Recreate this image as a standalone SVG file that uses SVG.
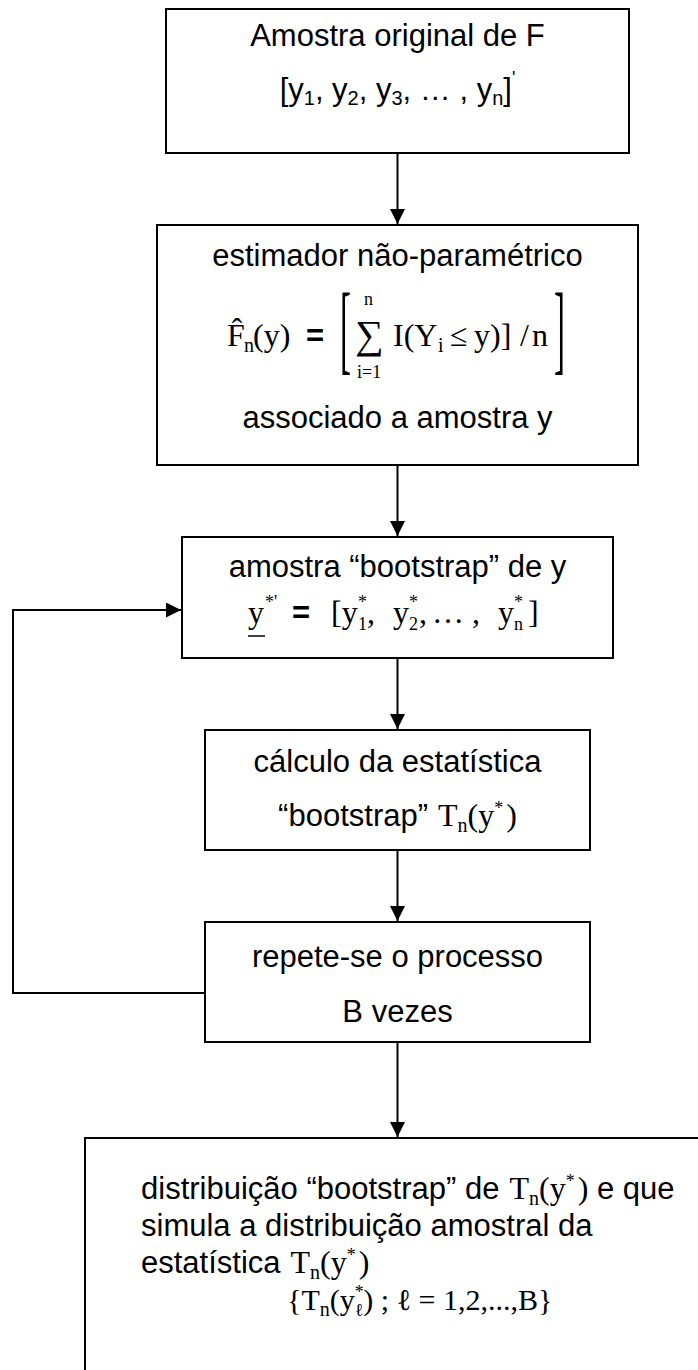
<svg xmlns="http://www.w3.org/2000/svg" width="698" height="1370" viewBox="0 0 698 1370">
<defs>
<style>
.box{fill:#fff;stroke:#000;stroke-width:2}
.c{fill:none;stroke:#000;stroke-width:2}
.t{font-family:"Liberation Sans",Arial,sans-serif;font-size:31px;fill:#000}
.m{font-family:"Liberation Serif","Times New Roman",serif;font-size:32px;fill:#000}
.eq{font-family:"Liberation Sans",Arial,sans-serif;font-size:31px;font-weight:bold}
.s20{font-size:20px}
.s18{font-size:18px}
</style>
<marker id="ah" viewBox="0 0 15 15" refX="15" refY="7.5" markerWidth="15" markerHeight="15" markerUnits="userSpaceOnUse" orient="auto"><path d="M0,0 L15,7.5 L0,15 z" fill="#000"/></marker>
</defs>
<rect width="698" height="1370" fill="#fff"/>

<g id="connectors" class="c">
<line x1="397.5" y1="154" x2="397.5" y2="224" marker-end="url(#ah)"/>
<line x1="397.5" y1="466" x2="397.5" y2="536" marker-end="url(#ah)"/>
<line x1="397.5" y1="659" x2="397.5" y2="729" marker-end="url(#ah)"/>
<line x1="397.5" y1="851" x2="397.5" y2="921" marker-end="url(#ah)"/>
<line x1="397.5" y1="1043" x2="397.5" y2="1137" marker-end="url(#ah)"/>
<polyline points="205,993 13,993 13,610 181,610" marker-end="url(#ah)"/>
</g>

<g id="n1">
<rect class="box" x="166" y="9" width="463" height="144"/>
<text class="t" x="397.5" y="46" text-anchor="middle">Amostra original de F</text>
<text class="t" x="397.5" y="100" text-anchor="middle">[y<tspan class="s20" dy="5">1</tspan><tspan dy="-5">, y</tspan><tspan class="s20" dy="5">2</tspan><tspan dy="-5">, y</tspan><tspan class="s20" dy="5">3</tspan><tspan dy="-5">, … , y</tspan><tspan class="s20" dy="5">n</tspan><tspan dy="-5">]</tspan><tspan class="s18" dy="-16">'</tspan></text>
</g>

<g id="n2">
<rect class="box" x="157" y="225" width="481" height="240"/>
<text class="t" x="397.5" y="266" text-anchor="middle">estimador não-paramétrico</text>
<text class="m" x="227" y="346">F̂</text>
<text class="m s20" x="244" y="352">n</text>
<text class="m" x="253" y="346">(y)</text>
<text class="eq" x="306" y="346">=</text>
<text class="m" transform="translate(340,362) scale(0.33,1)" style="font-size:100px">[</text>
<text class="m" x="355" y="348" style="font-size:40px">∑</text>
<text class="m s18" x="364" y="305">n</text>
<text class="m s18" x="357" y="378">i=1</text>
<text class="m" x="393" y="346">I(Y</text>
<text class="m s20" x="438" y="352">i</text>
<text class="m" x="450" y="346">≤</text>
<text class="m" x="474" y="346">y)]</text>
<text class="m" x="520" y="346">/</text>
<text class="m" x="532" y="346">n</text>
<text class="m" transform="translate(554,362) scale(0.33,1)" style="font-size:100px">]</text>
<text class="t" x="397.5" y="428" text-anchor="middle">associado a amostra y</text>
</g>

<g id="n3">
<rect class="box" x="182" y="537" width="431" height="121"/>
<text class="t" x="397.5" y="577" text-anchor="middle">amostra “bootstrap” de y</text>
<text class="m" y="623"><tspan x="248">y</tspan><tspan x="265" class="s18" dy="-15">*'</tspan><tspan x="292" class="eq" dy="15">=</tspan><tspan x="331">[y</tspan><tspan x="358" class="s18" dy="-15">*</tspan><tspan x="358" class="s18" dy="22">1</tspan><tspan x="367" dy="-7">,</tspan><tspan x="393">y</tspan><tspan x="409" class="s18" dy="-15">*</tspan><tspan x="409" class="s18" dy="22">2</tspan><tspan x="419" dy="-7">,</tspan><tspan x="432">…</tspan><tspan x="472">,</tspan><tspan x="498">y</tspan><tspan x="514" class="s18" dy="-15">*</tspan><tspan x="514" class="s18" dy="22">n</tspan><tspan x="528" dy="-7">]</tspan></text>
<line x1="248" y1="636" x2="265" y2="636" stroke="#000" stroke-width="1.5"/>
</g>

<g id="n4">
<rect class="box" x="205" y="730" width="385" height="120"/>
<text class="t" x="397.5" y="772" text-anchor="middle">cálculo da estatística</text>
<text class="t" x="397.5" y="826" text-anchor="middle">“bootstrap”<tspan class="m" dx="10">T</tspan><tspan class="m s20" dy="6">n</tspan><tspan class="m" dy="-6">(y</tspan><tspan class="m s18" dy="-12">*</tspan><tspan class="m" dy="12" dx="3">)</tspan></text>
</g>

<g id="n5">
<rect class="box" x="205" y="922" width="385" height="120"/>
<text class="t" x="397.5" y="967" text-anchor="middle">repete-se o processo</text>
<text class="t" x="397.5" y="1022" text-anchor="middle">B vezes</text>
</g>

<g id="n6">
<rect class="box" x="85" y="1138" width="620" height="240"/>
<text class="t" x="141" y="1199">distribuição “bootstrap” de<tspan class="m" dx="10">T</tspan><tspan class="m s20" dy="6">n</tspan><tspan class="m" dy="-6">(y</tspan><tspan class="m s18" dy="-12">*</tspan><tspan class="m" dy="12" dx="3">)</tspan> e que</text>
<text class="t" x="141" y="1236">simula a distribuição amostral da</text>
<text class="t" x="141" y="1273">estatística<tspan class="m" dx="10">T</tspan><tspan class="m s20" dy="6">n</tspan><tspan class="m" dy="-6">(y</tspan><tspan class="m s18" dy="-12">*</tspan><tspan class="m" dy="12" dx="3">)</tspan></text>
<text class="m" x="287" y="1310" style="font-size:30px">{T<tspan class="s20" dy="6">n</tspan><tspan dy="-6">(y</tspan><tspan class="s18" dy="-12">*</tspan><tspan class="s18" dx="-9" dy="18">ℓ</tspan><tspan dy="-6">) ; ℓ = 1,2,...,B}</tspan></text>
</g>
</svg>
